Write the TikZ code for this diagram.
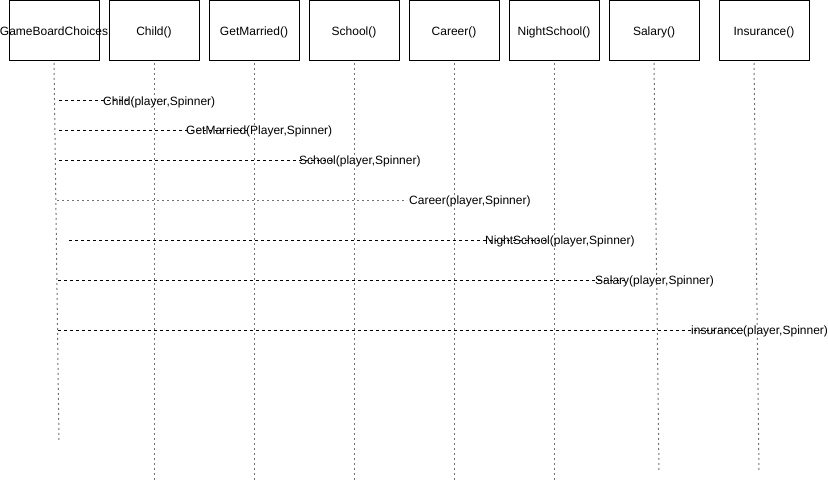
\documentclass[tikz,border=0pt]{standalone}
\usepackage{fontspec}
\setmainfont{Liberation Sans}
\begin{document}
\begin{tikzpicture}[x=1pt,y=-1pt,
  box/.style={draw=black, line width=1pt, minimum width=90pt, minimum height=60pt,
    inner sep=0pt, text height=9pt, text depth=0pt, font=\fontsize{12}{14}\selectfont},
  lifeline/.style={draw=black!55, line width=1pt, dash pattern=on 2pt off 3pt, shorten <=2pt},
  msg/.style={draw=black, line width=0.9pt, dash pattern=on 3pt off 3pt},
  msgdot/.style={draw=black!55, line width=1pt, dash pattern=on 2pt off 3pt},
  msglabel/.style={anchor=base west, inner sep=0pt, font=\fontsize{12}{14}\selectfont}]
\useasboundingbox (0,0) rectangle (828,482);

% participant boxes
\node[box] (game) at (54,30.5)  {\makebox[0pt]{GameBoardChoices}};
\node[box] (child) at (154,30.5) {\makebox[0pt]{Child()}};
\node[box] (married) at (254,30.5) {\makebox[0pt]{GetMarried()}};
\node[box] (school) at (354,30.5) {\makebox[0pt]{School()}};
\node[box] (career) at (454,30.5) {\makebox[0pt]{Career()}};
\node[box] (night) at (554,30.5) {\makebox[0pt]{NightSchool()}};
\node[box] (salary) at (654,30.5) {\makebox[0pt]{Salary()}};
\node[box] (ins) at (764,30.5) {\makebox[0pt]{Insurance()}};

% lifelines
\coordinate (gameEnd) at (59,442);
\coordinate (childEnd) at (154,481);
\coordinate (marriedEnd) at (254,481);
\coordinate (schoolEnd) at (354,481);
\coordinate (careerEnd) at (454,481);
\coordinate (nightEnd) at (554,481);
\coordinate (salaryEnd) at (659,471);
\coordinate (insEnd) at (759,471);
\draw[lifeline] (game.south) -- (gameEnd);
\draw[lifeline] (child.south) -- (childEnd);
\draw[lifeline] (married.south) -- (marriedEnd);
\draw[lifeline] (school.south) -- (schoolEnd);
\draw[lifeline] (career.south) -- (careerEnd);
\draw[lifeline] (night.south) -- (nightEnd);
\draw[lifeline] (salary.south) -- (salaryEnd);
\draw[lifeline] ([xshift=-10pt]ins.south) -- (insEnd);

% messages
\coordinate (s1) at (59,100.5);  \coordinate (e1) at (132,100.5);
\coordinate (s2) at (59,130);    \coordinate (e2) at (247,130);
\coordinate (s3) at (59,160);    \coordinate (e3) at (333,160);
\coordinate (s4) at (57,200);    \coordinate (e4) at (407,200);
\coordinate (s5) at (69,240);    \coordinate (e5) at (549,240);
\coordinate (s6) at (58,280);    \coordinate (e6) at (627,280);
\coordinate (s7) at (58,330);    \coordinate (e7) at (743,330);

\draw[msg] (s1) -- (e1);
\draw[msg] (s2) -- (e2);
\draw[msg] (s3) -- (e3);
\draw[msgdot] (s4) -- (e4);
\draw[msg] (s5) -- (e5);
\draw[msg] (s6) -- (e6);
\draw[msg] (s7) -- (e7);

\node[msglabel] (l1) at (103,105)   {Child(player,Spinner)};
\node[msglabel] (l2) at (186,134.5) {GetMarried(Player,Spinner)};
\node[msglabel] (l3) at (299,164.5) {School(player,Spinner)};
\node[msglabel] (l4) at (409,204.5) {Career(player,Spinner)};
\node[msglabel] (l5) at (485,244.5) {NightSchool(player,Spinner)};
\node[msglabel] (l6) at (595,284.5) {Salary(player,Spinner)};
\node[msglabel] (l7) at (691,334.5) {insurance(player,Spinner)};
\end{tikzpicture}
\end{document}
